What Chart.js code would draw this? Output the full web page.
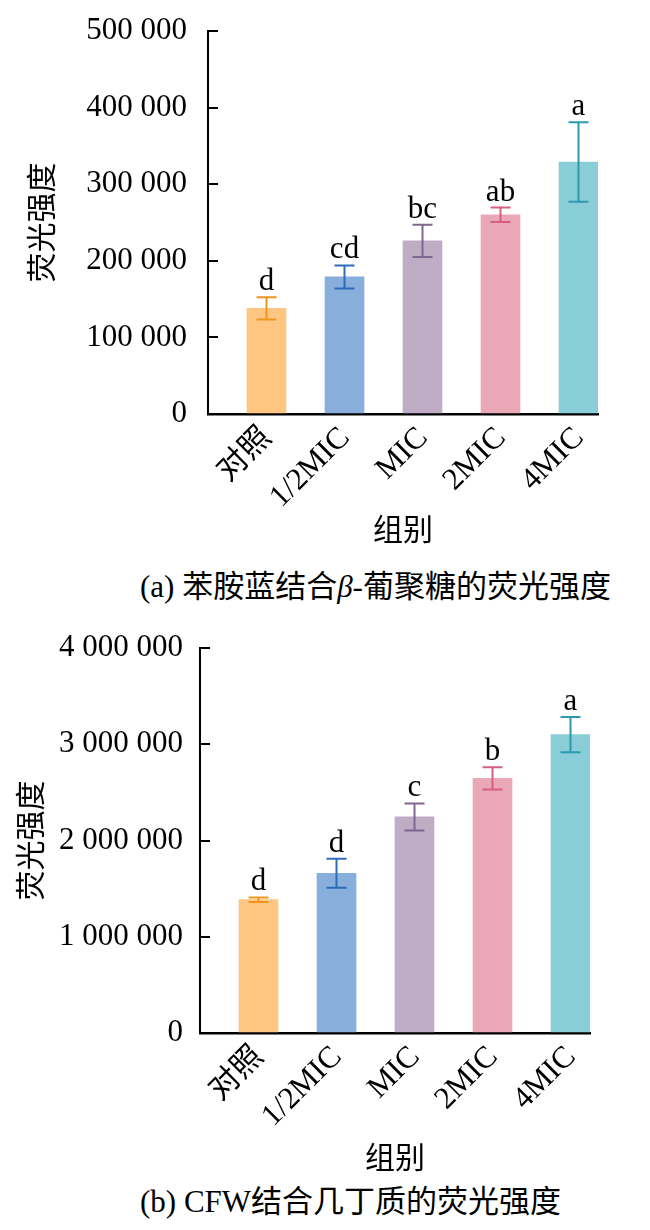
<!DOCTYPE html>
<html>
<head>
<meta charset="utf-8">
<script src="https://cdn.jsdelivr.net/npm/chart.js@4.4.1/dist/chart.umd.min.js"></script>
<style>
  body { margin: 0; background: #fff; width: 650px; height: 1230px; position: relative; overflow: hidden; }
  .box { position: absolute; left: 0; width: 650px; }
  .cap { position: absolute; left: 140px; font-size: 31px; font-family: "Liberation Serif", "Noto Sans CJK SC", serif; color: #000; white-space: nowrap; line-height: 34px; }
</style>
</head>
<body>
<div class="box" style="top:0;height:560px"><canvas id="chartA"></canvas></div>
<div class="cap" style="top:570px">(a) 苯胺蓝结合<i>β</i>-葡聚糖的荧光强度</div>
<div class="box" style="top:620px;height:560px"><canvas id="chartB"></canvas></div>
<div class="cap" style="top:1185px">(b) CFW结合几丁质的荧光强度</div>

<script>
// groups and colours
const groups = ['对照', '1/2MIC', 'MIC', '2MIC', '4MIC'];
const barColors = ['#fec680', '#88aedc', '#bfadc6', '#eaa7b6', '#89cdd9'];
const errColors = ['#f0961e', '#2d6bb8', '#7e6790', '#d75f80', '#2c9aae'];

// (a) aniline blue / beta-glucan
const anilineMeans = [138000, 179000, 226000, 260000, 329000];
const anilineErrs = [14500, 15000, 21000, 9500, 52000];
const anilineLetters = ['d', 'cd', 'bc', 'ab', 'a'];

// (b) CFW / chitin
const cfwMeans = [1385000, 1660000, 2245000, 2645000, 3100000];
const cfwErrs = [23000, 150000, 140000, 116000, 182000];
const cfwLetters = ['d', 'd', 'c', 'b', 'a'];

const serif = '"Liberation Serif", "Noto Sans CJK SC", serif';

function fmt(v) {
  return v.toLocaleString('en-US').replace(/,/g, ' ');
}

// error bars + significance letters, drawn on the real dataset (index 1)
function errorBars(means, errs, letters) {
  return {
    id: 'errorBars',
    afterDatasetsDraw(chart) {
      const ctx = chart.ctx;
      const y = chart.scales.y;
      const meta = chart.getDatasetMeta(1);
      ctx.save();
      meta.data.forEach((bar, i) => {
        const top = y.getPixelForValue(means[i] + errs[i]);
        const bot = y.getPixelForValue(means[i] - errs[i]);
        ctx.strokeStyle = errColors[i];
        ctx.lineWidth = 2;
        ctx.beginPath();
        ctx.moveTo(bar.x, top); ctx.lineTo(bar.x, bot);
        ctx.moveTo(bar.x - 10, top); ctx.lineTo(bar.x + 10, top);
        ctx.moveTo(bar.x - 10, bot); ctx.lineTo(bar.x + 10, bot);
        ctx.stroke();
        ctx.fillStyle = '#000';
        ctx.font = '31px ' + serif;
        ctx.textAlign = 'center';
        ctx.textBaseline = 'alphabetic';
        ctx.fillText(letters[i], bar.x, top - 7);
      });
      ctx.restore();
    }
  };
}

function makeChart(id, means, errs, letters, yMax, yStep, cfg) {
  new Chart(document.getElementById(id), {
    type: 'bar',
    data: {
      labels: groups,
      datasets: [
        // empty spacer so each bar sits in the right half of its slot
        { data: [null, null, null, null, null], backgroundColor: 'rgba(0,0,0,0)' },
        { data: means, backgroundColor: barColors }
      ]
    },
    options: {
      responsive: true,
      maintainAspectRatio: false,
      animation: false,
      events: [],
      categoryPercentage: 1,
      barPercentage: 1,
      layout: { padding: cfg.pad },
      plugins: { legend: { display: false }, tooltip: { enabled: false } },
      scales: {
        x: {
          grid: { display: false, drawTicks: false, tickLength: 0 },
          border: { display: true, color: '#000', width: 2.5 },
          ticks: { color: '#000', font: { family: serif, size: 31 }, minRotation: 45, maxRotation: 45, labelOffset: 20, padding: 6 },
          title: { display: true, text: '组别', color: '#000', font: { family: serif, size: 30 }, padding: { top: 0, bottom: cfg.xTitleBottom } },
          afterFit: s => { s.height = cfg.xHeight; }
        },
        y: {
          min: 0, max: yMax,
          grid: { drawOnChartArea: false, drawTicks: true, tickLength: -10, color: '#000', lineWidth: 2 },
          border: { display: true, color: '#000', width: 2 },
          ticks: { stepSize: yStep, color: '#000', font: { family: serif, size: 31 }, padding: cfg.tickPad, callback: v => fmt(v) },
          title: { display: true, text: '荧光强度', color: '#000', font: { family: serif, size: 30 }, padding: { top: cfg.yTitleTop, bottom: 0 } },
          afterFit: s => { s.width = cfg.yWidth; s.paddingTop = 0; }
        }
      }
    },
    plugins: [errorBars(means, errs, letters)]
  });
}

makeChart('chartA', anilineMeans, anilineErrs, anilineLetters, 500000, 100000, {
  pad: { left: 0, right: 52, top: 31, bottom: 0 },
  yWidth: 208, tickPad: 31, yTitleTop: 26,
  xHeight: 146, xTitleBottom: 10
});
makeChart('chartB', cfwMeans, cfwErrs, cfwLetters, 4000000, 1000000, {
  pad: { left: 0, right: 60, top: 28, bottom: 0 },
  yWidth: 200, tickPad: 27, yTitleTop: 15,
  xHeight: 147, xTitleBottom: 2
});
</script>
</body>
</html>
